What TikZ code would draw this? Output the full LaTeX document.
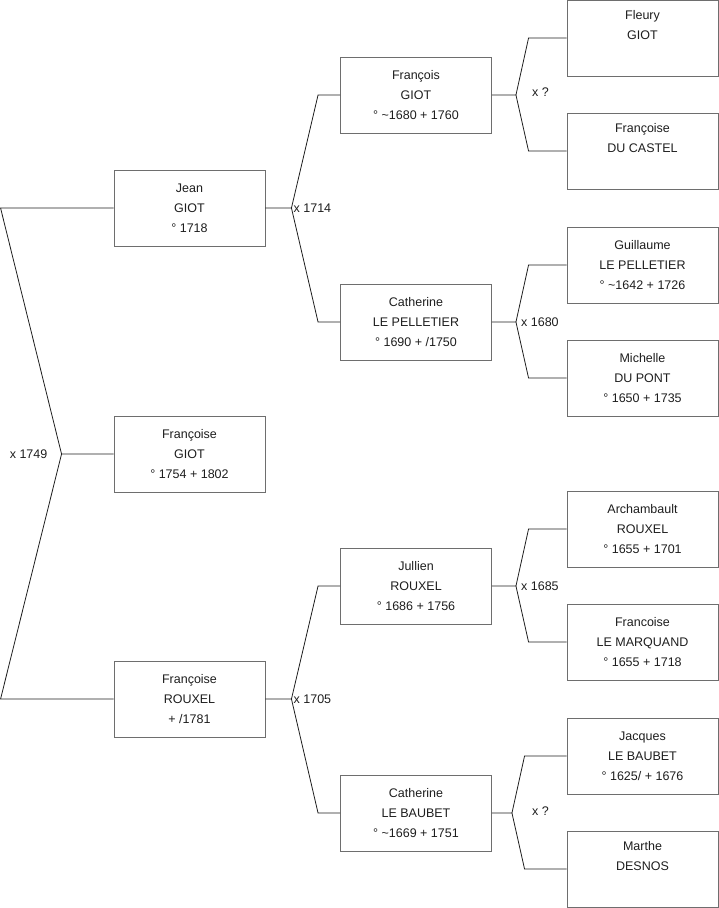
\documentclass[tikz,border=0pt]{standalone}
\usepackage{fontspec}
\setmainfont{Liberation Sans}
\usetikzlibrary{positioning,calc}
\definecolor{frame}{RGB}{110,110,110}
\definecolor{ink}{RGB}{30,30,30}
\tikzset{
  person/.style={draw=frame,line width=0.9pt,fill=white,minimum width=151pt,minimum height=76pt,
    inner sep=0pt,align=center,font=\fontsize{12.5}{20}\selectfont,text=ink},
  link/.style={draw=ink,line width=0.8pt},
  wed/.style={font=\fontsize{12.5}{15}\selectfont,text=ink,inner sep=0pt},
}

\begin{document}
\begin{tikzpicture}[x=1pt,y=-1pt]
  \useasboundingbox (0,0) rectangle (719,908);
  % generation 0
  \node[person] (francoise) at (189.5,454) {Françoise\\GIOT\\° 1754 + 1802};
  % parents
  \node[person] (jean) at (189.5,208) {Jean\\GIOT\\° 1718};
  \node[person] (rouxelF) at (189.5,699) {Françoise\\ROUXEL\\+ /1781};
  % grand parents
  \node[person] (francois) at (416,95) {François\\GIOT\\° \textasciitilde1680 + 1760};
  \node[person] (pelletierC) at (416,322) {Catherine\\LE PELLETIER\\° 1690 + /1750};
  \node[person] (jullien) at (416,586) {Jullien\\ROUXEL\\° 1686 + 1756};
  \node[person] (baubetC) at (416,813) {Catherine\\LE BAUBET\\° \textasciitilde1669 + 1751};
  % great grand parents
  \node[person] (fleury) at (642.5,38) {Fleury\\GIOT\\\strut};
  \node[person] (castel) at (642.5,151) {Françoise\\DU CASTEL\\\strut};
  \node[person] (guillaume) at (642.5,265) {Guillaume\\LE PELLETIER\\° \textasciitilde1642 + 1726};
  \node[person] (michelle) at (642.5,378) {Michelle\\DU PONT\\° 1650 + 1735};
  \node[person] (archambault) at (642.5,529) {Archambault\\ROUXEL\\° 1655 + 1701};
  \node[person] (marquand) at (642.5,642) {Francoise\\LE MARQUAND\\° 1655 + 1718};
  \node[person] (jacques) at (642.5,756) {Jacques\\LE BAUBET\\° 1625/ + 1676};
  \node[person] (marthe) at (642.5,869) {Marthe\\DESNOS\\\strut};

  % couples
  \draw[link] (francoise.west) -- ++(-52,0) coordinate (m0) -- ([xshift=-113]jean.west) -- (jean.west);
  \draw[link] (m0) -- ([xshift=-113]rouxelF.west) -- (rouxelF.west);
  \node[wed,anchor=east] at ([xshift=-14]m0) {x 1749};

  \draw[link] (jean.east) -- ++(26,0) coordinate (m1) -- ([xshift=-22]francois.west) -- (francois.west);
  \draw[link] (m1) -- ([xshift=-22]pelletierC.west) -- (pelletierC.west);
  \node[wed,anchor=west] at ([xshift=2]m1) {x 1714};

  \draw[link] (rouxelF.east) -- ++(26,0) coordinate (m2) -- ([xshift=-22]jullien.west) -- (jullien.west);
  \draw[link] (m2) -- ([xshift=-22]baubetC.west) -- (baubetC.west);
  \node[wed,anchor=west] at ([xshift=2]m2) {x 1705};

  \draw[link] (francois.east) -- ++(24,0) coordinate (m3) -- ([xshift=-38]fleury.west) -- (fleury.west);
  \draw[link] (m3) -- ([xshift=-38]castel.west) -- (castel.west);
  \node[wed,anchor=west] at ([xshift=16,yshift=3]m3) {x ?};

  \draw[link] (pelletierC.east) -- ++(24,0) coordinate (m4) -- ([xshift=-38]guillaume.west) -- (guillaume.west);
  \draw[link] (m4) -- ([xshift=-38]michelle.west) -- (michelle.west);
  \node[wed,anchor=west] at ([xshift=5]m4) {x 1680};

  \draw[link] (jullien.east) -- ++(24,0) coordinate (m5) -- ([xshift=-38]archambault.west) -- (archambault.west);
  \draw[link] (m5) -- ([xshift=-38]marquand.west) -- (marquand.west);
  \node[wed,anchor=west] at ([xshift=5]m5) {x 1685};

  \draw[link] (baubetC.east) -- ++(20,0) coordinate (m6) -- ([xshift=-42]jacques.west) -- (jacques.west);
  \draw[link] (m6) -- ([xshift=-42]marthe.west) -- (marthe.west);
  \node[wed,anchor=west] at ([xshift=20,yshift=2]m6) {x ?};
\end{tikzpicture}
\end{document}
